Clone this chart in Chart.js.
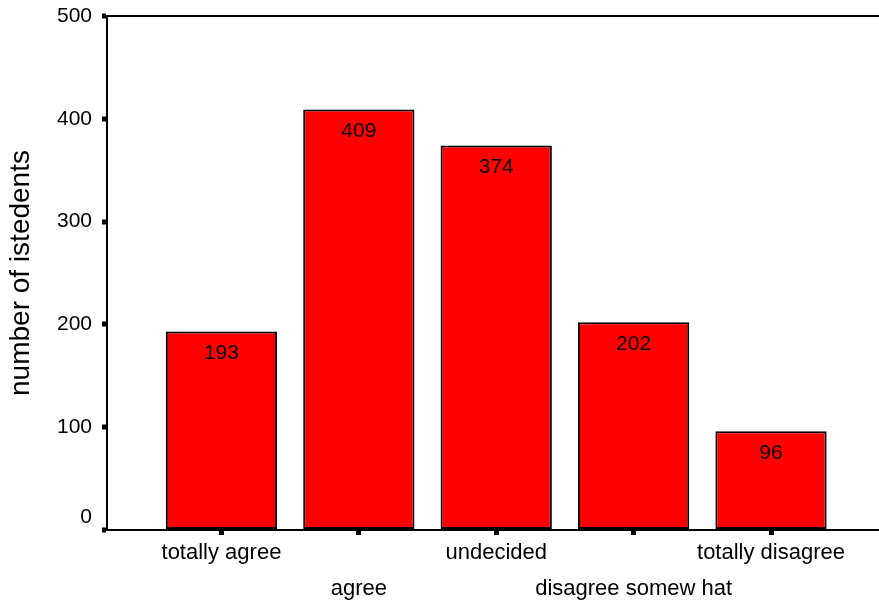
<!DOCTYPE html>
<html>
<head>
<meta charset="utf-8">
<script src="https://cdn.jsdelivr.net/npm/chart.js@4"></script>
<style>
  html, body { margin: 0; padding: 0; background: #fff; }
  #wrap { width: 879px; height: 606px; }
</style>
</head>
<body>
<div id="wrap"><canvas id="opini"></canvas></div>
<script>
const categories = ["totally agree", "agree", "undecided", "disagree somew hat", "totally disagree"];
const counts = [193, 409, 374, 202, 96];
const yTicks = [0, 100, 200, 300, 400, 500];

const FONT = "'Liberation Sans', Arial, sans-serif";

// numbers printed inside the top of every bar
const barLabels = {
  id: "barLabels",
  afterDatasetsDraw(chart) {
    const ctx = chart.ctx;
    ctx.save();
    ctx.font = "21px " + FONT;
    ctx.fillStyle = "#000";
    ctx.textAlign = "center";
    ctx.textBaseline = "middle";
    chart.getDatasetMeta(0).data.forEach((bar, i) => {
      ctx.fillText(String(counts[i]), bar.x, bar.y + 22);
    });
    ctx.restore();
  }
};

new Chart(document.getElementById("opini"), {
  type: "bar",
  data: {
    datasets: [{
      data: counts.map((v, i) => ({ x: i + 1, y: v })),
      backgroundColor: "#ff0000",
      borderColor: "#000",
      borderWidth: 2,
      borderSkipped: false,
      categoryPercentage: 1,
      barPercentage: 0.81
    }]
  },
  options: {
    responsive: true,
    maintainAspectRatio: false,
    animation: false,
    layout: { padding: { top: 16, right: 0, left: 0, bottom: 0 } },
    plugins: { legend: { display: false }, tooltip: { enabled: false } },
    scales: {
      x: {
        type: "linear",
        min: 0.167,
        max: 5.786,
        offset: false,
        afterBuildTicks(scale) {
          scale.ticks = categories.map((c, i) => ({ value: i + 1 }));
        },
        afterFit(scale) { scale.height = 76; },
        border: { color: "#000", width: 2 },
        grid: {
          offset: false,
          drawOnChartArea: false,
          tickLength: 5,
          tickWidth: 5,
          tickColor: "#000"
        },
        ticks: {
          padding: 0,
          autoSkip: false,
          maxRotation: 0,
          color: "#000",
          font: { family: FONT, size: 22, lineHeight: 1.64 },
          callback: (v, i) => (i % 2 === 0 ? categories[i] : ["", categories[i]])
        }
      },
      y: {
        min: 0,
        max: 500,
        afterBuildTicks(scale) {
          scale.ticks = yTicks.map(v => ({ value: v }));
        },
        afterFit(scale) {
          scale.width = 107;
          scale.paddingTop = 0;
          scale.paddingBottom = 0;
        },
        border: { color: "#000", width: 2 },
        grid: {
          color: ctx => (ctx.tick && ctx.tick.value === 500 ? "#000" : "rgba(0,0,0,0)"),
          lineWidth: 2,
          tickLength: 5,
          tickWidth: 5,
          tickColor: "#000"
        },
        ticks: {
          padding: 10,
          color: "#000",
          font: { family: FONT, size: 21 },
          callback: v => (v === 0 ? ["0", ""] : String(v))
        },
        title: {
          display: true,
          text: "number of istedents",
          color: "#000",
          font: { family: FONT, size: 28 }
        }
      }
    }
  },
  plugins: [barLabels]
});
</script>
</body>
</html>
